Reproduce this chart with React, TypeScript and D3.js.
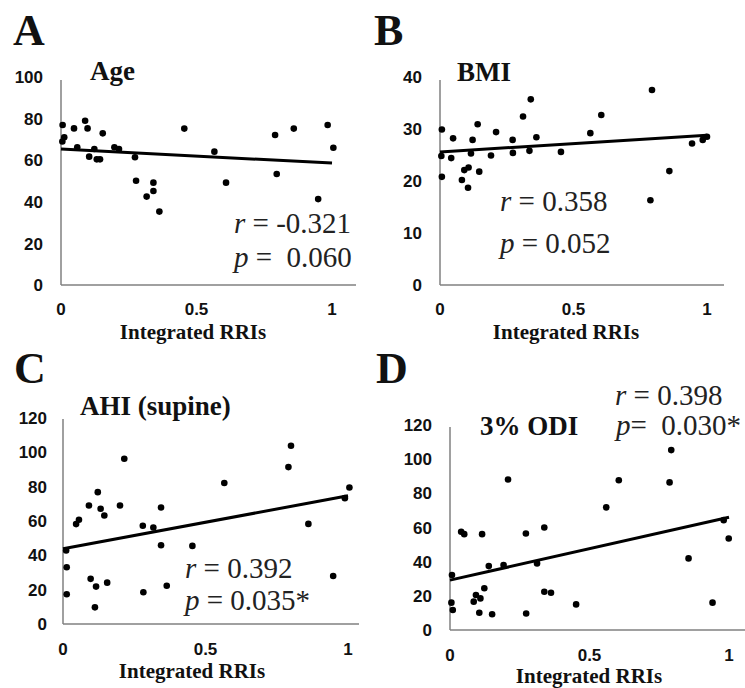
import React from 'react';
import * as d3 from 'd3';

// ---------- DATA ----------
const xTicks = [0, 0.5, 1];
const xTickLabels = ['0', '0.5', '1'];

const ageX = [0.006, 0.005, 0.012, 0.048, 0.089, 0.098, 0.06, 0.154, 0.123, 0.104, 0.132, 0.144, 0.197, 0.214, 0.273, 0.277, 0.316, 0.341, 0.341, 0.363, 0.455, 0.566, 0.609, 0.79, 0.796, 0.859, 0.949, 0.984, 1.005];
const ageY = [76.9, 69, 71, 75.3, 79, 75.3, 66.2, 72.9, 65.4, 61.7, 60.4, 60.4, 66.2, 65.4, 61.4, 50.1, 42.5, 49.2, 45.2, 35.3, 75.2, 64.1, 49.2, 72.1, 53.4, 75.2, 41.3, 76.9, 66];
const ageTicks = [0, 20, 40, 60, 80, 100];
const ageTrend = [65.4, 58.6];

const bmiX = [0.007, 0.005, 0.007, 0.049, 0.042, 0.082, 0.091, 0.107, 0.105, 0.116, 0.122, 0.141, 0.147, 0.191, 0.21, 0.272, 0.273, 0.311, 0.335, 0.34, 0.361, 0.453, 0.563, 0.604, 0.794, 0.788, 0.859, 0.944, 0.984, 1.0];
const bmiY = [29.9, 24.8, 20.8, 28.2, 24.4, 20.2, 22.1, 22.6, 18.7, 25.3, 27.9, 30.9, 21.8, 24.9, 29.4, 27.9, 25.4, 32.4, 25.8, 35.7, 28.4, 25.6, 29.2, 32.7, 37.5, 16.3, 21.9, 27.2, 27.9, 28.5];
const bmiTicks = [0, 10, 20, 30, 40];
const bmiTrend = [25.6, 28.8];

const ahiX = [0.011, 0.013, 0.013, 0.046, 0.056, 0.091, 0.097, 0.116, 0.122, 0.112, 0.132, 0.145, 0.155, 0.2, 0.215, 0.28, 0.282, 0.317, 0.344, 0.344, 0.364, 0.454, 0.566, 0.791, 0.8, 0.861, 0.948, 0.989, 1.005];
const ahiY = [42.8, 33.1, 17.3, 58.2, 60.7, 69, 26.3, 21.8, 76.8, 9.7, 67.1, 63.2, 24.1, 69, 96.3, 57.2, 18.5, 56.2, 67.9, 45.9, 22.3, 45.5, 82.1, 91.4, 103.8, 58.3, 28, 73.3, 79.5];
const ahiTicks = [0, 20, 40, 60, 80, 100, 120];
const ahiTrend = [43.8, 74.7];

const odiX = [0.007, 0.005, 0.01, 0.04, 0.051, 0.085, 0.093, 0.105, 0.109, 0.115, 0.123, 0.139, 0.151, 0.192, 0.208, 0.272, 0.273, 0.312, 0.338, 0.338, 0.362, 0.452, 0.56, 0.605, 0.787, 0.793, 0.855, 0.941, 0.981, 0.999];
const odiY = [32.2, 16, 11.7, 57.5, 56.1, 16.6, 20.5, 10.1, 18.5, 56.1, 24.4, 37.4, 9.2, 38, 88.1, 56.5, 9.7, 39, 60, 22.4, 21.8, 15, 71.8, 87.7, 86.4, 105.3, 41.9, 16, 64.3, 53.6];
const odiTicks = [0, 20, 40, 60, 80, 100, 120];
const odiTrend = [29.2, 66];

const panelLetters = ['A', 'B', 'C', 'D'];
const panelTitles = ['Age', 'BMI', 'AHI (supine)', '3% ODI'];
const rTexts = [' = -0.321', ' = 0.358', ' = 0.392', ' = 0.398'];
const pTexts = [' =  0.060', ' = 0.052', ' = 0.035*', '=  0.030*'];
const xAxisTitle = 'Integrated RRIs';

// ---------- LAYOUT ----------
const layouts = [
  { x0: 61, x1: 332, xEnd: 356, y0: 285, yTop: 77, yAxisTop: 80, yMax: 100, letter: [13, 45], title: [90, 80], r: [234, 233], p: [234, 267], xLabY: 315, xTitleY: 339, xTitleX: 193, yLabRight: 43 },
  { x0: 440, x1: 707, xEnd: 724, y0: 285, yTop: 77, yAxisTop: 80, yMax: 40, letter: [374, 45], title: [457, 81], r: [500, 211], p: [500, 253], xLabY: 315, xTitleY: 339, xTitleX: 566, yLabRight: 422 },
  { x0: 63, x1: 348, xEnd: 359, y0: 624, yTop: 418, yAxisTop: 419, yMax: 120, letter: [14, 383], title: [80, 415], r: [185, 578], p: [185, 610], xLabY: 655, xTitleY: 678, xTitleX: 192, yLabRight: 47 },
  { x0: 450, x1: 729, xEnd: 745, y0: 630, yTop: 425, yAxisTop: 427, yMax: 120, letter: [376, 383], title: [480, 435], r: [615, 405], p: [616, 435], xLabY: 661, xTitleY: 683, xTitleX: 589, yLabRight: 432 },
];

const datasets = [
  { xs: ageX, ys: ageY, ticks: ageTicks, trend: ageTrend },
  { xs: bmiX, ys: bmiY, ticks: bmiTicks, trend: bmiTrend },
  { xs: ahiX, ys: ahiY, ticks: ahiTicks, trend: ahiTrend },
  { xs: odiX, ys: odiY, ticks: odiTicks, trend: odiTrend },
];

const serif = '"Liberation Serif"';
const sans = '"Liberation Sans"';

function Panel({ i }: { i: number }) {
  const L = layouts[i];
  const D = datasets[i];
  const x = d3.scaleLinear().domain([0, 1]).range([L.x0, L.x1]);
  const y = d3.scaleLinear().domain([0, L.yMax]).range([L.y0, L.yTop]);
  const pts = D.xs.map((v, k) => [v, D.ys[k]] as [number, number]);
  const line = d3.line<[number, number]>().x(d => x(d[0])).y(d => y(d[1]));
  const trendPts: [number, number][] = [[0, D.trend[0]], [1, D.trend[1]]];
  return (
    <g>
      <text x={L.letter[0]} y={L.letter[1]} fontSize={44} fill="#111" style={{ fontFamily: serif, fontWeight: 'bold' }}>{panelLetters[i]}</text>
      <text x={L.title[0]} y={L.title[1]} fontSize={27} fill="#111" style={{ fontFamily: serif, fontWeight: 'bold' }}>{panelTitles[i]}</text>
      <line x1={L.x0} x2={L.x0} y1={L.y0} y2={L.yAxisTop} stroke="#808080" strokeWidth={1.5} />
      <line x1={L.x0} x2={L.xEnd} y1={L.y0} y2={L.y0} stroke="#808080" strokeWidth={1.5} />
      {D.ticks.map(t => (
        <text key={'y' + t} x={L.yLabRight} y={y(t)} dy="0.36em" textAnchor="end" fontSize={17} fill="#111" style={{ fontFamily: sans, fontWeight: 'bold' }}>{t}</text>
      ))}
      {xTicks.map((t, k) => (
        <text key={'x' + t} x={x(t)} y={L.xLabY} textAnchor="middle" fontSize={17} fill="#111" style={{ fontFamily: sans, fontWeight: 'bold' }}>{xTickLabels[k]}</text>
      ))}
      <text x={L.xTitleX} y={L.xTitleY} textAnchor="middle" fontSize={21} fill="#111" style={{ fontFamily: serif, fontWeight: 'bold' }}>{xAxisTitle}</text>
      {pts.map((d, k) => (
        <circle key={k} cx={x(d[0])} cy={y(d[1])} r={3.3} fill="#000" />
      ))}
      <path d={line(trendPts) || ''} stroke="#000" strokeWidth={3} fill="none" />
      <text x={L.r[0]} y={L.r[1]} fontSize={29} fill="#222" style={{ fontFamily: serif, whiteSpace: 'pre' }}>
        <tspan style={{ fontStyle: 'italic' }}>r</tspan>{rTexts[i]}
      </text>
      <text x={L.p[0]} y={L.p[1]} fontSize={29} fill="#222" style={{ fontFamily: serif, whiteSpace: 'pre' }}>
        <tspan style={{ fontStyle: 'italic' }}>p</tspan>{pTexts[i]}
      </text>
    </g>
  );
}

export default function App() {
  return (
    <svg width={745} height={688} style={{ position: 'absolute', left: 0, top: 0, background: '#fff' }}>
      <rect width={745} height={688} fill="#fff" />
      {[0, 1, 2, 3].map(i => <Panel key={i} i={i} />)}
    </svg>
  );
}
